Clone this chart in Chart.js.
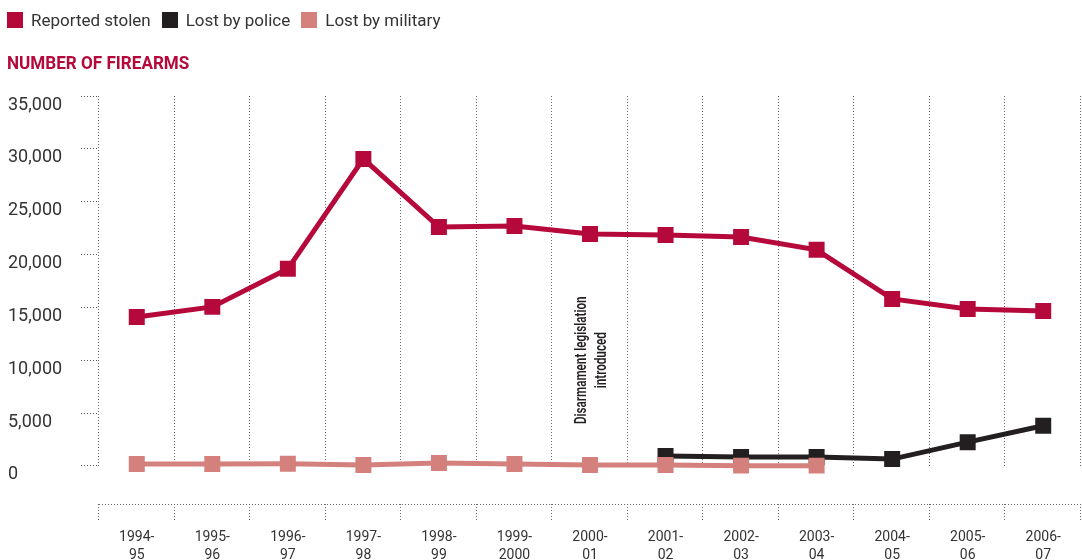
<!DOCTYPE html>
<html>
<head>
<meta charset="utf-8">
<script src="https://cdn.jsdelivr.net/npm/chart.js@4.4.1/dist/chart.umd.min.js"></script>
<style>
  html, body { margin: 0; padding: 0; background: #fff; }
  body {
    width: 1082px; height: 560px; position: relative; overflow: hidden;
    font-family: Roboto, 'Liberation Sans', sans-serif;
  }
  #legend {
    position: absolute; left: 7px; top: 10px;
    display: flex; align-items: center;
    font-size: 17px; line-height: 20px; color: #333;
  }
  #legend .item { display: flex; align-items: center; margin-right: 11px; }
  #legend .swatch { width: 16px; height: 16px; margin-right: 8px; }
  #title {
    position: absolute; left: 7px; top: 52px;
    font-weight: bold; font-size: 18px; color: #b5093b;
    transform: scaleX(0.95); transform-origin: left center;
    white-space: nowrap;
  }
  #wrap { position: absolute; left: 0; top: 0; width: 1082px; height: 560px; }
</style>
</head>
<body>
<div id="wrap"><canvas id="chart" width="1082" height="560"></canvas></div>
<div id="legend"></div>
<div id="title">NUMBER OF FIREARMS</div>
<script>
const FONT = "Roboto, 'Liberation Sans', sans-serif";

const categories = ['1994-95', '1995-96', '1996-97', '1997-98', '1998-99', '1999-2000',
  '2000-01', '2001-02', '2002-03', '2003-04', '2004-05', '2005-06', '2006-07'];

const reportedStolen = [14100, 15050, 18650, 29050, 22600, 22700, 21950, 21850, 21650, 20450, 15800, 14850, 14650];
const lostByPolice = [null, null, null, null, null, null, null, 950, 850, 850, 650, 2250, 3800];
const lostByMilitary = [190, 190, 200, 100, 280, 190, 90, 90, 30, 30, null, null, null];

const yTicks = [0, 5000, 10000, 15000, 20000, 25000, 30000, 35000];

const noteLines = ['Disarmament legislation', 'introduced'];
const noteAt = { category: '2000-01', value: 10000 };

const RED = '#b5093b';
const BLACK = '#231f20';
const PINK = '#d4817d';

// dotted frame: category dividers, the lower baseline and its ticks
const dottedGrid = {
  id: 'dottedGrid',
  beforeDatasetsDraw(chart) {
    const { ctx, chartArea: a, scales: { x, y } } = chart;
    const zero = Math.round(y.getPixelForValue(0));
    const top = Math.round(y.getPixelForValue(yTicks[yTicks.length - 1]));
    const step = x.getPixelForValue(1) - x.getPixelForValue(0);
    ctx.save();
    ctx.lineWidth = 1;
    ctx.strokeStyle = '#6a6a6a';
    ctx.setLineDash([1, 2]);
    ctx.beginPath();
    for (let i = 0; i <= categories.length; i++) {
      const px = Math.round(x.getPixelForValue(i) - step / 2) - 0.5;
      ctx.moveTo(px, top);
      ctx.lineTo(px, zero);
      ctx.moveTo(px, a.bottom);
      ctx.lineTo(px, a.bottom + 17);
    }
    ctx.moveTo(a.left, Math.round(a.bottom) + 0.5);
    ctx.lineTo(a.right + 2, Math.round(a.bottom) + 0.5);
    ctx.stroke();
    ctx.restore();
  }
};

// rotated note next to the 2000-01 divider
const note = {
  id: 'note',
  afterDraw(chart) {
    const { ctx, scales: { x, y } } = chart;
    const cx = x.getPixelForValue(categories.indexOf(noteAt.category)) + 2;
    const cy = y.getPixelForValue(noteAt.value);
    ctx.save();
    ctx.translate(cx, cy);
    ctx.rotate(-Math.PI / 2);
    ctx.scale(0.73, 1);
    ctx.fillStyle = BLACK;
    ctx.font = '600 16px ' + FONT;
    ctx.textAlign = 'center';
    ctx.textBaseline = 'middle';
    noteLines.forEach((line, i) => {
      ctx.fillText(line, 0, (i - (noteLines.length - 1) / 2) * 20);
    });
    ctx.restore();
  }
};

let series = (label, data, color, order) => ({
  label, data, order,
  borderColor: color,
  backgroundColor: color,
  pointBackgroundColor: color,
  borderWidth: 5,
  pointStyle: 'rect',
  pointRadius: 11.3,
  pointBorderWidth: 0,
  pointHoverRadius: 11.3,
  tension: 0,
  spanGaps: false
});

const chart = new Chart(document.getElementById('chart'), {
  type: 'line',
  data: {
    labels: categories,
    datasets: [
      series('Reported stolen', reportedStolen, RED, 3),
      series('Lost by police', lostByPolice, BLACK, 2),
      series('Lost by military', lostByMilitary, PINK, 1)
    ]
  },
  options: {
    responsive: false,
    animation: false,
    layout: { autoPadding: false, padding: { top: 96, left: 8, right: 1, bottom: 0 } },
    plugins: {
      legend: { display: false },
      title: { display: false },
      tooltip: { enabled: false }
    },
    scales: {
      x: {
        offset: true,
        // invisible tick marks only push the labels down
        grid: {
          display: true,
          drawOnChartArea: false,
          drawTicks: true,
          tickLength: 24,
          tickColor: 'rgba(0,0,0,0)'
        },
        border: { display: false },
        ticks: {
          autoSkip: false,
          maxRotation: 0,
          padding: 0,
          color: '#333',
          font: { family: FONT, size: 14, lineHeight: 1.3 },
          callback: (v, i) => {
            let [a, b] = categories[i].split('-');
            return [a + '-', b];
          }
        },
        afterFit: (scale) => {
          scale.height = 56;
          scale.paddingLeft = 0;
          scale.paddingRight = 0;
        }
      },
      y: {
        min: -3600,
        max: 35000,
        border: { display: false },
        grid: {
          drawOnChartArea: false,
          drawTicks: true,
          tickLength: 18,
          tickColor: '#555',
          tickBorderDash: [1, 2],
          tickWidth: 1
        },
        ticks: {
          crossAlign: 'far',
          labelOffset: 9,
          color: '#333',
          font: { family: FONT, size: 18 },
          callback: (v) => v.toLocaleString('en-US')
        },
        afterBuildTicks: (scale) => { scale.ticks = yTicks.map(v => ({ value: v })); },
        afterFit: (scale) => { scale.width = 91; }
      }
    }
  },
  plugins: [dottedGrid, note]
});

// legend row built from the datasets
let legend = document.getElementById('legend');
chart.data.datasets.forEach(ds => {
  let item = document.createElement('div');
  item.className = 'item';
  let sw = document.createElement('span');
  sw.className = 'swatch';
  sw.style.background = ds.borderColor;
  let txt = document.createElement('span');
  txt.textContent = ds.label;
  item.append(sw, txt);
  legend.append(item);
});
</script>
</body>
</html>
